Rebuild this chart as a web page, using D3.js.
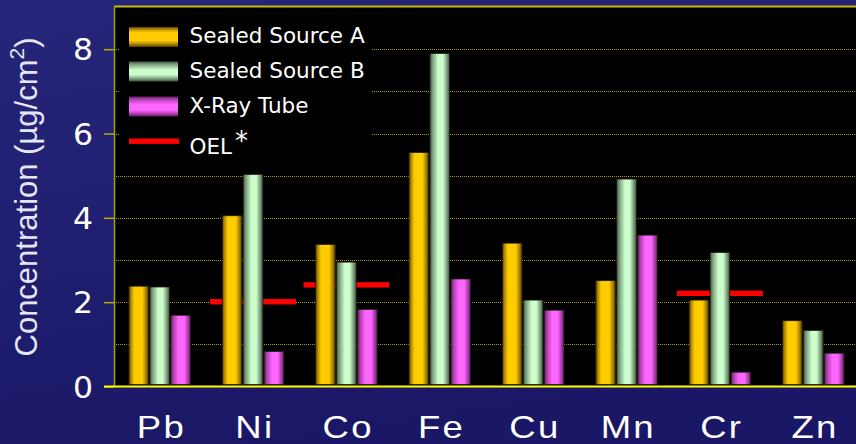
<!DOCTYPE html>
<html><head><meta charset="utf-8">
<script src="https://cdn.jsdelivr.net/npm/d3@7"></script>
<style>html,body{margin:0;padding:0;background:#1d1c6c;}svg{display:block;}</style>
</head><body>
<svg id="chart" width="856" height="444"></svg>
<script>
const categories = ["Pb","Ni","Co","Fe","Cu","Mn","Cr","Zn"];
const seriesNames = ["Sealed Source A","Sealed Source B","X-Ray Tube"];
const sourceA  = [2.38, 4.05, 3.37, 5.55, 3.40, 2.51, 2.05, 1.56];
const sourceB  = [2.36, 5.03, 2.95, 7.90, 2.05, 4.92, 3.18, 1.33];
const xrayTube = [1.69, 0.83, 1.83, 2.55, 1.81, 3.59, 0.34, 0.79];
const oel      = [null, 2.01, 2.41, null, null, null, 2.21, null];
const oelLabel = "OEL";
const yTicks = [0, 2, 4, 6, 8];
const gridValues = [1, 2, 3, 4, 5, 6, 7, 8];
const yTitle = "Concentration (\u00b5g/cm";

const seriesValues = [sourceA, sourceB, xrayTube];
const W = 856, H = 444;
const svg = d3.select("#chart");
const defs = svg.append("defs");

// background gradient
const bg = defs.append("linearGradient").attr("id","bg").attr("x1","0").attr("y1","0").attr("x2","0.3").attr("y2","1");
bg.append("stop").attr("offset","0%").attr("stop-color","#26267a");
bg.append("stop").attr("offset","100%").attr("stop-color","#1a1766");
svg.append("rect").attr("width",W).attr("height",H).attr("fill","url(#bg)");

const gradStops = [
  [["0%","#5a4300"],["12%","#b88d00"],["28%","#ffcc00"],["68%","#ffcc00"],["86%","#b08600"],["100%","#4e3b00"]],
  [["0%","#3f5a3f"],["14%","#7f9f7f"],["42%","#ccffcc"],["66%","#ccffcc"],["86%","#7e9e7e"],["100%","#3a503a"]],
  [["0%","#5e1e5e"],["14%","#b040b0"],["40%","#ff66ff"],["68%","#ff66ff"],["86%","#b040b0"],["100%","#5a1c5a"]]
];
gradStops.forEach((stops,i)=>{
  const gh = defs.append("linearGradient").attr("id","gh"+i).attr("x1","0").attr("y1","0").attr("x2","1").attr("y2","0");
  stops.forEach(s=>gh.append("stop").attr("offset",s[0]).attr("stop-color",s[1]));
  const gv = defs.append("linearGradient").attr("id","gv"+i).attr("x1","0").attr("y1","0").attr("x2","0").attr("y2","1");
  stops.forEach(s=>gv.append("stop").attr("offset",s[0]).attr("stop-color",s[1]));
});

const plotLeft = 114, plotTop = 7, plotBottom = 386.5;
const y = d3.scaleLinear().domain([0, 9]).range([plotBottom, plotTop]);
const x0 = d3.scaleBand().domain(categories).range([113, 860]).paddingInner(0.34).paddingOuter(0.17);
const x1 = d3.scaleBand().domain(seriesNames).range([0, x0.bandwidth()]).paddingInner(0.06);
const groupCenter = c => x0(c) + x0.bandwidth()/2;

// plot area
svg.append("rect").attr("x",plotLeft).attr("y",plotTop).attr("width",W-plotLeft).attr("height",plotBottom-plotTop).attr("fill","#000");
svg.append("line").attr("x1",plotLeft).attr("x2",W).attr("y1",plotTop-0.5).attr("y2",plotTop-0.5).attr("stroke","#c8b800").attr("stroke-width",2);

// gridlines
svg.append("g").selectAll("line").data(gridValues).join("line")
  .attr("x1",plotLeft).attr("x2",W).attr("y1",d=>Math.round(y(d))+0.5).attr("y2",d=>Math.round(y(d))+0.5)
  .attr("stroke","#a6a010").attr("stroke-width",1).attr("stroke-dasharray","1,1");

// legend background box (hides gridlines)
svg.append("rect").attr("x",119).attr("y",plotTop+1).attr("width",253).attr("height",150).attr("fill","#000");

// OEL segments (behind bars)
const oelData = categories.map((c,i)=>({c, v: oel[i]})).filter(d=>d.v!=null);
const oelW = x0.step()*0.92;
svg.append("g").selectAll("rect").data(oelData).join("rect")
  .attr("x",d=>groupCenter(d.c)-oelW/2).attr("width",oelW)
  .attr("y",d=>y(d.v)-2.7).attr("height",5.4).attr("fill","#ff0000");

// bars
const barData = [];
categories.forEach((c,i)=>seriesNames.forEach((s,j)=>barData.push({c, s, j, v: seriesValues[j][i]})));
svg.append("g").selectAll("rect").data(barData).join("rect")
  .attr("x",d=>x0(d.c)+x1(d.s)).attr("width",x1.bandwidth())
  .attr("y",d=>y(d.v)).attr("height",d=>y(0)-y(d.v)-2)
  .attr("fill",d=>"url(#gh"+d.j+")")
  .attr("stroke","#1e1e10").attr("stroke-width",0.8);

// y axis
const yAxis = d3.axisLeft(y).tickValues(yTicks).tickSize(10).tickPadding(0).tickFormat(d3.format("d"));
const gy = svg.append("g").attr("transform",`translate(${plotLeft},0)`).call(yAxis);
gy.select(".domain").attr("stroke","#a8a000").attr("stroke-width",1.5).attr("d",`M0.5,${plotTop}V${plotBottom}`);
gy.selectAll(".tick line").attr("stroke","#b4ac00").attr("stroke-width",1.5);
gy.selectAll(".tick text").attr("x",null).attr("dy","0.36em").attr("transform","translate(-21,0) scale(1.05,1)")
  .attr("fill","#ffffff").attr("font-family","'DejaVu Sans', Verdana, sans-serif").attr("font-size",30).attr("text-anchor","end");

// bottom axis
const xAxis = d3.axisBottom(x0).tickSize(0).tickPadding(0);
const gx = svg.append("g").attr("transform",`translate(0,${plotBottom})`).call(xAxis);
gx.select(".domain").attr("stroke","#ffff00").attr("stroke-width",2).attr("d",`M104,0H${W}`);
gx.selectAll(".tick text").attr("y",52).attr("dy",0).attr("x",1.5).attr("transform","scale(1.14,1)")
  .attr("fill","#ffffff").attr("font-family","'Liberation Sans', Arial, sans-serif").attr("font-size",32)
  .attr("letter-spacing","2px").attr("text-anchor","middle");

// y title
const yt = svg.append("text").attr("transform","translate(37,197) rotate(-90)")
  .attr("text-anchor","middle").attr("fill","#e6e6f2")
  .attr("font-family","'Liberation Sans', Arial, sans-serif").attr("font-size",31);
yt.append("tspan").text(yTitle);
yt.append("tspan").attr("font-size",21).attr("dy",-13).text("2");
yt.append("tspan").attr("dy",13).text(")");

// legend
const legend = svg.append("g");
const rowY = [37, 71.5, 106.5];
seriesNames.forEach((s,j)=>{
  legend.append("rect").attr("x",129).attr("y",rowY[j]-10).attr("width",49).attr("height",20).attr("fill","url(#gv"+j+")");
  legend.append("text").attr("x",189.5).attr("y",rowY[j]+6).attr("fill","#ffffff")
    .attr("font-family","'DejaVu Sans', Verdana, sans-serif").attr("font-size",21.5).text(s);
});
legend.append("rect").attr("x",129).attr("y",138.5).attr("width",50).attr("height",5.4).attr("fill","#ff0000");
const lt = legend.append("text").attr("x",189.5).attr("y",154).attr("fill","#ffffff")
  .attr("font-family","'DejaVu Sans', Verdana, sans-serif").attr("font-size",21.5);
lt.append("tspan").text(oelLabel);
lt.append("tspan").attr("dx",3).attr("dy",-4).attr("font-size",26).text("*");
</script>
</body></html>
